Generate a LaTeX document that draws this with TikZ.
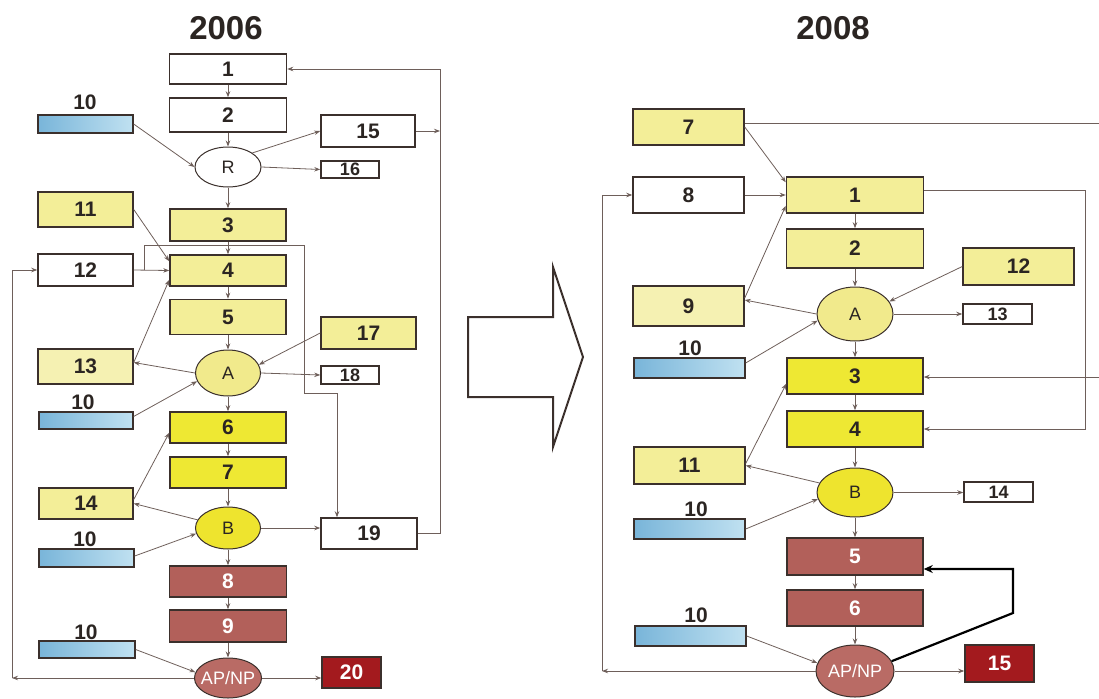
\documentclass[tikz,border=0pt]{standalone}
\usepackage{fontspec}
\setmainfont{Liberation Sans}
\usetikzlibrary{arrows.meta,shapes.geometric,calc}
\definecolor{bord}{HTML}{3B302C}
\definecolor{txt}{HTML}{2B2522}
\definecolor{lnc}{HTML}{6E5F5A}
\definecolor{lyel}{HTML}{F3EE98}
\definecolor{lyyel}{HTML}{F5F1B2}
\definecolor{byel}{HTML}{EEE833}
\definecolor{ela}{HTML}{F1EA8C}
\definecolor{elb}{HTML}{EEE42E}
\definecolor{brn}{HTML}{B2605A}
\definecolor{elap}{HTML}{B96B65}
\definecolor{dred}{HTML}{A31A1E}
\definecolor{blueA}{HTML}{79B5D9}
\definecolor{blueB}{HTML}{C0E1F1}
\tikzset{
  wh/.style 2 args={minimum width=#1pt, minimum height=#2pt},
  bx/.style={rectangle, draw=bord, line width=1.5pt, inner sep=0pt, font=\fontsize{21}{21}\selectfont\bfseries, text=txt},
  wbox/.style={bx, fill=white},
  lybox/.style={bx, fill=lyel},
  lyybox/.style={bx, fill=lyyel},
  bybox/.style={bx, fill=byel},
  brbox/.style={bx, fill=brn, text=white},
  drbox/.style={bx, fill=dred, text=white},
  blubox/.style={bx, left color=blueA, right color=blueB, line width=1.3pt},
  sbox/.style={wbox, font=\fontsize{18}{18}\selectfont\bfseries},
  elnode/.style={ellipse, draw=bord, line width=1pt, inner sep=0pt, font=\fontsize{18}{18}\selectfont, text=txt},
  lbl/.style={font=\fontsize{21}{21}\selectfont\bfseries, text=txt, inner sep=0pt},
  ttl/.style={font=\fontsize{33}{33}\selectfont\bfseries, text=txt, inner sep=0pt},
  conn/.style={draw=lnc, line width=0.8pt, -{Stealth[length=6pt,width=4.5pt]}},
  plainline/.style={draw=lnc, line width=0.8pt},
  thickarr/.style={draw=black, line width=2.2pt, -{Stealth[length=9pt,width=8pt]}},
  bigarrow/.style={draw=bord, line width=2pt, line join=miter},
}
\begin{document}
\begin{tikzpicture}[x=1pt, y=-1pt]
\useasboundingbox (0,0) rectangle (1099,698);
% ---------------- titles
\node[ttl] (T1) at (226,28) {2006};
\node[ttl] (T2) at (833,28) {2008};
% ---------------- 2006 main column
\node[wbox,wh={117}{30}] (L1) at (228,69) {1};
\node[wbox,wh={117}{34}] (L2) at (228,115) {2};
\node[elnode,fill=white,wh={66}{40}] (LR) at (228,167) {R};
\node[lybox,wh={116}{32}] (L3) at (228,225) {3};
\node[lybox,wh={116}{31}] (L4) at (228,270.5) {4};
\node[lybox,wh={116}{35}] (L5) at (228,317) {5};
\node[elnode,fill=ela,wh={65}{46}] (LA) at (228,373) {A};
\node[bybox,wh={116}{31}] (L6) at (228,427.5) {6};
\node[bybox,wh={116}{31}] (L7) at (228,472.5) {7};
\node[elnode,fill=elb,wh={65}{42}] (LB) at (228,528) {B};
\node[brbox,wh={117}{31}] (L8) at (228,581.5) {8};
\node[brbox,wh={117}{32}] (L9) at (228,626) {9};
\node[elnode,fill=elap,text=white,wh={67}{40}] (LAP) at (228,678) {\makebox[0pt]{AP/NP}};
\node[drbox,wh={59}{31}] (L20) at (351.5,672.5) {20};
% side boxes
\node[blubox,wh={95}{18}] (L10a) at (85.5,124) {};
\node[lbl] (L10at) at (85,102) {10};
\node[lybox,wh={95}{35}] (L11) at (85.5,209.5) {11};
\node[wbox,wh={95}{32}] (L12) at (85.5,270) {12};
\node[lyybox,wh={95}{35}] (L13) at (85.5,366.5) {13};
\node[blubox,wh={94}{17}] (L10b) at (86,420.5) {};
\node[lbl] (L10bt) at (83,402) {10};
\node[lybox,wh={94}{31}] (L14) at (86,503.5) {14};
\node[blubox,wh={95}{18}] (L10c) at (86.5,558) {};
\node[lbl] (L10ct) at (85,539) {10};
\node[blubox,wh={96}{17}] (L10d) at (87,649.5) {};
\node[lbl] (L10dt) at (86,632) {10};
\node[wbox,wh={94}{32}] (L15) at (368,131) {15};
\node[sbox,wh={58}{17}] (L16) at (350,169.5) {16};
\node[lybox,wh={95}{32}] (L17) at (368.5,333) {17};
\node[sbox,wh={58}{18}] (L18) at (350,375) {18};
\node[wbox,wh={96}{31}] (L19) at (369,533.5) {19};
% coordinates
\coordinate (lr1) at (440,533.5);
\coordinate (lr2) at (440,69);
\coordinate (lr3) at (440,131);
\coordinate (lk1) at (144,270);
\coordinate (lk3) at (304,245);
\coordinate (lk5) at (337,393);
\coordinate (ll1) at (12,678);
% main flow
\draw[conn] (L1) -- (L2);
\draw[conn] (L2) -- (LR);
\draw[conn] (LR) -- (L3);
\draw[conn] (L3) -- (L4);
\draw[conn] (L4) -- (L5);
\draw[conn] (L5) -- (LA);
\draw[conn] (LA) -- (L6);
\draw[conn] (L6) -- (L7);
\draw[conn] (L7) -- (LB);
\draw[conn] (LB) -- (L8);
\draw[conn] (L8) -- (L9);
\draw[conn] (L9) -- (LAP);
% side connections
\draw[conn] (L10a.east) -- (LR.west);
\draw[conn] (LR.30) -- (L15.west);
\draw[conn] (LR.east) -- (L16.west);
\draw[conn] (L11.east) -- ([yshift=-7pt]L4.north west);
\draw[conn] (L12.east) -- (L4.west);
\draw[conn] (lk1) |- (lk3) |- (lk5) -- (lk5 |- L19.north);
\draw[conn] ([yshift=4pt]L13.east) -- ([yshift=7pt]L4.south west);
\draw[conn] (LA.west) -- ([yshift=4pt]L13.east);
\draw[conn] (L17.west) -- (LA.15);
\draw[conn] (LA.east) -- (L18.west);
\draw[conn] ([yshift=4pt]L10b.east) -- (LA.195);
\draw[conn] ([yshift=4pt]L14.east) -- ([yshift=11pt]L6.south west);
\draw[conn] (LB.165) -- (L14.east);
\draw[conn] ([yshift=2pt]L10c.east) -- (LB.190);
\draw[conn] (LB.east) -- (LB.east -| L19.west);
\draw[conn] (L19.east) -- (lr1) -- (lr2) -- (L1.east);
\draw[conn] (L15.east) -- (lr3);
\draw[conn] (L10d.east) -- (LAP.170);
\draw[conn] (LAP.east) -- (LAP.east -| L20.west);
\draw[conn] (LAP.west) -- (ll1);
\draw[conn] (ll1) |- (L12.west);
% ---------------- big hollow arrow
\draw[bigarrow] (468,317) -- (553,317) -- (553,267) -- (583,357) -- (553,447) -- (553,397) -- (468,397) -- cycle;
% ---------------- 2008
\node[lybox,wh={111}{36}] (R7) at (688.5,127) {7};
\node[wbox,wh={111}{36}] (R8) at (688.5,195) {8};
\node[lybox,wh={137}{36}] (R1) at (855,195) {1};
\node[lybox,wh={137}{39}] (R2) at (855,248.5) {2};
\node[lybox,wh={111}{37}] (R12) at (1018.5,266.5) {12};
\node[lyybox,wh={111}{40}] (R9) at (688.5,306) {9};
\node[elnode,fill=ela,wh={76}{54}] (RA) at (855,314) {A};
\node[sbox,wh={69}{20}] (R13) at (997.5,314) {13};
\node[blubox,wh={111}{20}] (R10a) at (689.5,368) {};
\node[lbl] (R10at) at (690,348) {10};
\node[bybox,wh={136}{36}] (R3) at (855,376) {3};
\node[bybox,wh={136}{36}] (R4) at (855,429) {4};
\node[lybox,wh={111}{37}] (R11) at (689.5,465.5) {11};
\node[elnode,fill=elb,wh={76}{49}] (RB) at (855,492.5) {B};
\node[sbox,wh={69}{20}] (R14) at (998.5,492) {14};
\node[blubox,wh={111}{20}] (R10b) at (689.5,529) {};
\node[lbl] (R10bt) at (696,509) {10};
\node[brbox,wh={136}{37}] (R5) at (855,556.5) {5};
\node[brbox,wh={136}{36}] (R6) at (855,608) {6};
\node[blubox,wh={111}{20}] (R10c) at (690.5,636) {};
\node[lbl] (R10ct) at (696,615) {10};
\node[elnode,fill=elap,text=white,wh={78}{52}] (RAP) at (855,671) {\makebox[0pt]{AP/NP}};
\node[drbox,wh={69}{37}] (R15) at (999.5,663.5) {15};
% coordinates
\coordinate (rc1) at (1100.5,123);
\coordinate (rc2) at (1100.5,377);
\coordinate (rd1) at (1085,190);
\coordinate (rd2) at (1085,429);
\coordinate (rl1) at (602,671);
\coordinate (rt1) at (1013,613);
\coordinate (rt2) at (1013,569);
% main flow
\draw[conn] (R1) -- (R2);
\draw[conn] (R2) -- (RA);
\draw[conn] (RA) -- (R3);
\draw[conn] (R3) -- (R4);
\draw[conn] (R4) -- (RB);
\draw[conn] (RB) -- (R5);
\draw[conn] (R5) -- (R6);
\draw[conn] (R6) -- (RAP);
% side connections
\draw[conn] (R7.east) -- ([yshift=-6pt]R1.north west);
\draw[conn] (R8.east) -- (R1.west);
\draw[conn] ([yshift=8pt]R9.east) -- ([yshift=8pt]R1.south west);
\draw[conn] (RA.west) -- ([yshift=6pt]R9.east);
\draw[conn] (R12.west) -- (RA.20);
\draw[conn] (RA.east) -- (R13.west);
\draw[conn] ([yshift=5pt]R10a.east) -- (RA.190);
\draw[conn] ([yshift=2pt]R11.east) -- ([yshift=11pt]R3.south west);
\draw[conn] (RB.165) -- (R11.east);
\draw[conn] (R10b.east) -- (RB.190);
\draw[conn] (RB.east) -- (RB.east -| R14.west);
\draw[conn] (R10c.east) -- (RAP.168);
\draw[conn] (RAP.east) -- (RAP.east -| R15.west);
\draw[conn] (RAP.west) -- (rl1);
\draw[conn] (rl1) |- (R8.west);
\draw[thickarr] (RAP.15) -- (rt1) -- (rt2) -- (rt2 -| R5.east);
\draw[plainline] ([yshift=4pt]R7.east) -- (rc1);
\draw[conn] (rc1) -- (rc2) -- (rc2 -| R3.east);
\draw[conn] ([yshift=5pt]R1.east) -- (rd1) -- (rd2) -- (rd2 -| R4.east);
\end{tikzpicture}
\end{document}
